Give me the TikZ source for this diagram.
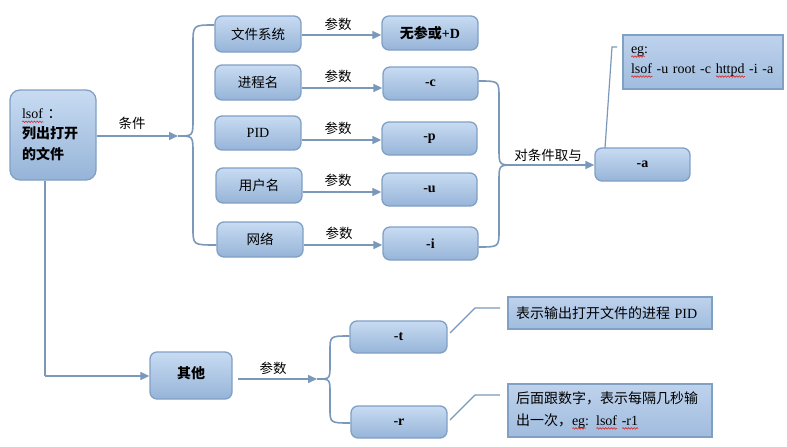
\documentclass[tikz,border=0pt]{standalone}
\usepackage{fontspec}
\setmainfont{Liberation Serif}
\newfontfamily\cjk{Noto Sans CJK SC}
\usetikzlibrary{arrows.meta,decorations.pathmorphing}
\definecolor{btop}{RGB}{200,219,242}
\definecolor{bbot}{RGB}{150,180,216}
\definecolor{bdr}{RGB}{128,160,196}
\definecolor{lnc}{RGB}{122,152,186}
\definecolor{ntop}{RGB}{190,210,236}
\definecolor{nbot}{RGB}{160,188,222}
\definecolor{sqred}{RGB}{220,40,40}
\tikzset{
 bx/.style={draw=bdr, line width=1.3pt, rounded corners=7pt, top color=btop, bottom color=bbot, inner sep=0pt, font=\fontsize{14}{18}\selectfont},
 note/.style={draw=bdr, line width=1.8pt, top color=ntop, bottom color=nbot, inner sep=0pt, font=\fontsize{14}{20}\selectfont},
 conn/.style={draw=lnc, line width=1.6pt},
 arr/.style={conn, -{Triangle[length=9pt,width=8pt]}},
 lbl/.style={font=\cjk\fontsize{13.5}{16}\selectfont, inner sep=0pt},
 cj/.style={font=\cjk\fontsize{13.5}{16}\selectfont},
 squig/.style={draw=sqred, line width=0.6pt, sharp corners, decorate, decoration={snake, amplitude=0.8pt, segment length=2.8pt}}
}
\newdimen\sqwd
\newcommand\sqw[1]{\setbox0=\hbox{#1}\sqwd=\wd0\leavevmode\rlap{\tikz[baseline=0pt]\draw[squig] (0pt,-3pt) -- (\sqwd,-3pt);}\box0\relax}
\begin{document}
\begin{tikzpicture}[x=1pt,y=-1pt]
\useasboundingbox (0,0) rectangle (787,447);
% main box
\node[bx, rounded corners=10pt, minimum width=86pt, minimum height=90pt, align=left, text width=62pt, font=\fontsize{14}{21}\selectfont] (lsof) at (53,135) {\sqw{lsof} {\cjk ：}\\[-1pt]{\cjk\bfseries 列出打开}\\{\cjk\bfseries 的文件}};
% column 1
\node[bx, cj, minimum width=86pt, minimum height=36pt] (fs) at (258,34) {文件系统};
\node[bx, cj, minimum width=86pt, minimum height=35pt] (proc) at (258,82.5) {进程名};
\node[bx, minimum width=86pt, minimum height=34pt] (pid) at (258,133) {PID};
\node[bx, cj, minimum width=86pt, minimum height=35pt] (user) at (259,185.5) {用户名};
\node[bx, cj, minimum width=86pt, minimum height=35pt] (net) at (260,239.5) {网络};
% column 2
\node[bx, minimum width=96pt, minimum height=34pt] (nod) at (430,33) {{\cjk\bfseries 无参或}\textbf{+D}};
\node[bx, minimum width=95pt, minimum height=33pt] (oc) at (430.5,83.5) {\textbf{-c}};
\node[bx, minimum width=95pt, minimum height=33pt] (op) at (429.5,138.5) {\textbf{-p}};
\node[bx, minimum width=95pt, minimum height=33pt] (ou) at (429.5,189.5) {\textbf{-u}};
\node[bx, minimum width=95pt, minimum height=33pt] (oi) at (430.5,243.5) {\textbf{-i}};
\node[bx, minimum width=95pt, minimum height=33pt] (oa) at (642.5,164.5) {\textbf{-a}};
\node[note, minimum width=160pt, minimum height=54pt, align=left, text width=144pt] (eg) at (703,62) {\sqw{eg}:\\\sqw{lsof} -u root -c \sqw{httpd} -i -a};
% other
\node[bx, minimum width=82pt, minimum height=47pt] (other) at (191,375.5) {\raisebox{5pt}{\cjk\bfseries 其他}};
\node[bx, minimum width=97pt, minimum height=32pt] (ot) at (398.5,337) {\textbf{-t}};
\node[bx, minimum width=96pt, minimum height=32pt] (or) at (399,422) {\textbf{-r}};
\node[note, minimum width=204pt, minimum height=32pt, align=left, text width=188pt] (nt) at (610,313) {{\cjk 表示输出打开文件的进程} PID};
\node[note, minimum width=204pt, minimum height=53pt, align=left, text width=188pt, font=\fontsize{14}{22}\selectfont] (nr) at (610,410.5) {{\cjk 后面跟数字，表示每隔几秒输}\\{\cjk 出一次，}\sqw{eg}: \sqw{lsof} \sqw{-r1}};
% coordinates
\coordinate (j1) at (178,136);
\coordinate (j2) at (513,165);
\coordinate (j3) at (317,379);
\coordinate (c1) at (45,376);
% main to brace
\draw[arr] (lsof.east |- j1) -- (j1);
\node[lbl] (l0) at (132,123) {条件};
\draw[conn] (j1) .. controls (193,136) .. (193,119) -- (193,44) .. controls (193,25) .. (fs.west |- 0,25);
\draw[conn] (j1) .. controls (193,136) .. (193,153) -- (193,228) .. controls (193,245) .. (net.west |- 0,245);
% column arrows
\draw[arr] (fs.east |- 0,35) -- (nod.west |- 0,35);
\draw[arr] (proc.east |- 0,88) -- (oc.west |- 0,88);
\draw[arr] (pid.east |- 0,140) -- (op.west |- 0,140);
\draw[arr] (user.east |- 0,192) -- (ou.west |- 0,192);
\draw[arr] (net.east |- 0,245) -- (oi.west |- 0,245);
\node[lbl] (l1) at (338,24) {参数};
\node[lbl] (l2) at (338,76) {参数};
\node[lbl] (l3) at (338,128) {参数};
\node[lbl] (l4) at (338,180) {参数};
\node[lbl] (l5) at (339,233) {参数};
% right brace
\draw[conn] (oc.east |- 0,81) .. controls (499,81) .. (499,98) -- (499,148) .. controls (499,165) .. (j2);
\draw[conn] (oi.east |- 0,247) .. controls (499,247) .. (499,230) -- (499,182) .. controls (499,165) .. (j2);
\draw[arr] (j2) -- (oa.west |- j2);
\node[lbl] (l6) at (548,155) {对条件取与};
\draw[conn, line width=1.2pt] (605,148) -- (612,47) -- (617,47);
% other branch
\draw[conn] (lsof.south -| c1) -- (c1);
\draw[arr] (c1) -- (other.west |- c1);
\draw[arr] (238,379) -- (j3);
\node[lbl] (l7) at (273,368) {参数};
\draw[conn] (j3) .. controls (330,379) .. (330,365) -- (330,351) .. controls (330,336) .. (ot.west |- 0,336);
\draw[conn] (j3) .. controls (330,379) .. (330,393) -- (330,408) .. controls (330,423) .. (or.west |- 0,423);
\draw[conn, line width=1.2pt] (450,333) -- (475,308) -- (500,308);
\draw[conn, line width=1.2pt] (450,420) -- (475,395) -- (500,395);
\end{tikzpicture}
\end{document}
